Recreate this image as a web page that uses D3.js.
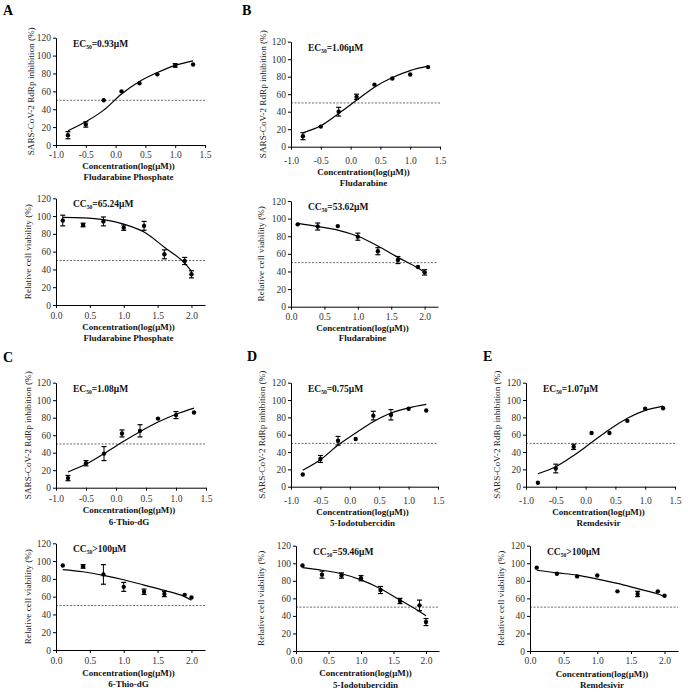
<!DOCTYPE html>
<html><head><meta charset="utf-8">
<script src="https://cdn.jsdelivr.net/npm/d3@7"></script>
<style>
body{margin:0;background:#fff;}
svg{display:block;font-family:"Liberation Serif","Times New Roman",serif;}
</style></head>
<body><svg id="c" width="688" height="693"></svg>
<script>
// ---------- data ----------
const drugs = ["Fludarabine Phosphate","Fludarabine","6-Thio-dG","5-Iodotubercidin","Remdesivir"];
const panelLetters = ["A","B","C","D","E"];
const ecLabels = ["=0.93μM","=1.06μM","=1.08μM","=0.75μM","=1.07μM"];
const ccLabels = ["=65.24μM","=53.62μM",">100μM","=59.46μM",">100μM"];
const xEC = [-0.8,-0.5,-0.2,0.1,0.4,0.7,1.0,1.3];
const xCC = [0.1,0.4,0.7,1.0,1.3,1.6,1.9,2.0];
const yTicks = [0,20,40,60,80,100,120];
const xTicksEC = [-1.0,-0.5,0.0,0.5,1.0,1.5];
const xTicksCC = [0.0,0.5,1.0,1.5,2.0];
const ecMean = [
  [11,23,50,60,69,79,89,90],
  [12,23,40,57,71,78,82.5,91],
  [11,28,39,62,65,79,83,86],
  [14,32,53,55,82,83,90,88],
  [4.6,21,46,62,62,76,90,90.5]];
const ecErr = [
  [4,3,0,0,0,0,2,0],
  [4,0,5,3,0,0,0,0],
  [3,3,8,4,7,0,4,0],
  [0,4,5,0,5,6,0,0],
  [0,5,3,0,0,0,0,0]];
const ecFit = [
  [16,26,39,57,71,81,89,94],
  [16,24,38,53,68,79,87,92],
  [18,27,39,52,64,75,84,91],
  [19,31,48,62,75,85,91,95],
  [15,23,36,51,66,79,88,93]];
const ccMean = [
  [95,90,94,87,89,57,49.5,34.5],
  [93.5,91,91.5,79.5,63,53,45,39],
  [95,94,85,71,65.5,63,62,59],
  [97.5,87,86,83,69.5,57,52,33],
  [95,88,85,86,68,65,68,63]];
const ccErr = [
  [6,2,5,3,5,5,4,4],
  [0,4,0,4,4,4,0,3],
  [0,2,11,5,3,3,0,0],
  [0,4,3,3,4,3,6,4],
  [0,0,0,0,0,3,0,0]];
const ccFit = [
  [98.5,98,96,91,82,65,47,38],
  [94.5,91,87,80,69,56,44,39],
  [90.5,88,84,79,73,67,60,56],
  [95,92,88,81,71,58,45,40],
  [92,89,86.5,82,77,71,65,62]];
const threshold = 50;

// ---------- layout ----------
// [axisX, axisEndX, y120, y0, tickLabelCenterY, titleCenterY, nameCenterY, yTitleOffset]
const layoutEC = [
  [56,205,37.7,145,155,166,177,25],
  [291,440,41.7,146.7,161,172,183,28.5],
  [56,206,382.7,487.7,499,510,522,28],
  [291,438,382.7,486.7,500.7,512,522.5,29],
  [526,675,382.7,486.7,501,512.3,523,29]];
const layoutCC = [
  [56,205,198.3,305,316,327,337.5,28],
  [291,438,201,306.7,316.7,327.5,338,30],
  [56,205,543.3,650,660.7,673,684,28.5],
  [296,439,545.7,651,660.7,673,685,35],
  [530,678,545.7,651,661,674,685,29]];
const letterPos = [[3,15],[242,15],[3,362],[247,361],[483,361]];

const svg = d3.select("#c");

function drawPanel(i, L, xDomain, xTicks, xs, mean, err, fit, yTitle, prefix, label){
  const [ax, axEnd, y120, y0, tickY, titleY, nameY, yOff] = L;
  const x = d3.scaleLinear().domain(xDomain).range([ax, axEnd]);
  const y = d3.scaleLinear().domain([0,120]).range([y0, y120]);
  const g = svg.append("g");
  // dashed threshold
  g.append("line").attr("x1", ax).attr("x2", axEnd)
    .attr("y1", y(threshold)).attr("y2", y(threshold))
    .attr("stroke","#444").attr("stroke-width",0.8).attr("stroke-dasharray","2,1.5");
  // axes
  const yAxis = d3.axisLeft(y).tickValues(yTicks).tickSize(3).tickSizeOuter(0).tickPadding(2).tickFormat(d3.format("d"));
  const ya = g.append("g").attr("transform",`translate(${ax},0)`).call(yAxis);
  const xAxis = d3.axisBottom(x).tickValues(xTicks).tickSize(3).tickSizeOuter(0).tickPadding(2).tickFormat(d => d.toFixed(1));
  const xa = g.append("g").attr("transform",`translate(0,${y0})`).call(xAxis);
  [ya, xa].forEach(a => {
    a.select(".domain").attr("stroke","#000").attr("stroke-width",1);
    a.selectAll(".tick line").attr("stroke","#000");
    a.selectAll("text").attr("font-family","Liberation Serif").attr("font-size",9.5).attr("fill","#333");
  });
  xa.selectAll("text").attr("y", null).attr("dy", null)
    .attr("y", tickY - y0 + 3.3);
  // fit curve
  const line = d3.line().x((d,k) => x(xs[k])).y(d => y(d)).curve(d3.curveMonotoneX);
  g.append("path").datum(fit).attr("d", line).attr("fill","none").attr("stroke","#000").attr("stroke-width",1.2);
  // error bars
  const eb = g.append("g");
  mean.forEach((m,k) => {
    if (err[k] > 0) {
      const cx = x(xs[k]);
      eb.append("line").attr("x1",cx).attr("x2",cx).attr("y1",y(m-err[k])).attr("y2",y(m+err[k])).attr("stroke","#000").attr("stroke-width",1);
      [m-err[k], m+err[k]].forEach(v => eb.append("line").attr("x1",cx-2.5).attr("x2",cx+2.5).attr("y1",y(v)).attr("y2",y(v)).attr("stroke","#000").attr("stroke-width",1.2));
    }
  });
  // points
  g.selectAll("circle.pt").data(mean).join("circle").attr("class","pt")
    .attr("cx",(d,k) => x(xs[k])).attr("cy", d => y(d)).attr("r",2.2).attr("fill","#000");
  // label EC50 / CC50
  const t = g.append("text").attr("x", ax + 17).attr("y", y120 + 9)
    .attr("font-size",9.5).attr("font-weight","bold").attr("fill","#111");
  t.append("tspan").text(prefix);
  t.append("tspan").attr("font-size",5.5).attr("dy",2).text("50");
  t.append("tspan").attr("dy",-2).text(label);
  // y title
  const ymid = (y0 + y120)/2;
  g.append("text").attr("transform",`translate(${ax - yOff},${ymid}) rotate(-90)`)
    .attr("text-anchor","middle").attr("dy","0.35em").attr("font-size",9.2).attr("fill","#222").text(yTitle);
  // x title + name
  const xmid = (ax + axEnd)/2 - 2;
  g.append("text").attr("x", xmid).attr("y", titleY).attr("dy","0.35em").attr("text-anchor","middle")
    .attr("font-size",9).attr("font-weight","bold").attr("fill","#111").text("Concentration(log(μM))");
  g.append("text").attr("x", xmid).attr("y", nameY).attr("dy","0.35em").attr("text-anchor","middle")
    .attr("font-size",9).attr("font-weight","bold").attr("fill","#111").text(drugs[i]);
}

drugs.forEach((dname, i) => {
  drawPanel(i, layoutEC[i], [-1,1.5], xTicksEC, xEC, ecMean[i], ecErr[i], ecFit[i], "SARS-CoV-2 RdRp inhibition (%)", "EC", ecLabels[i]);
  drawPanel(i, layoutCC[i], [0,2.2], xTicksCC, xCC, ccMean[i], ccErr[i], ccFit[i], "Relative cell viability (%)", "CC", ccLabels[i]);
  svg.append("text").attr("x", letterPos[i][0]).attr("y", letterPos[i][1])
    .attr("font-size",14).attr("font-weight","bold").attr("fill","#000").text(panelLetters[i]);
});
</script></body></html>
